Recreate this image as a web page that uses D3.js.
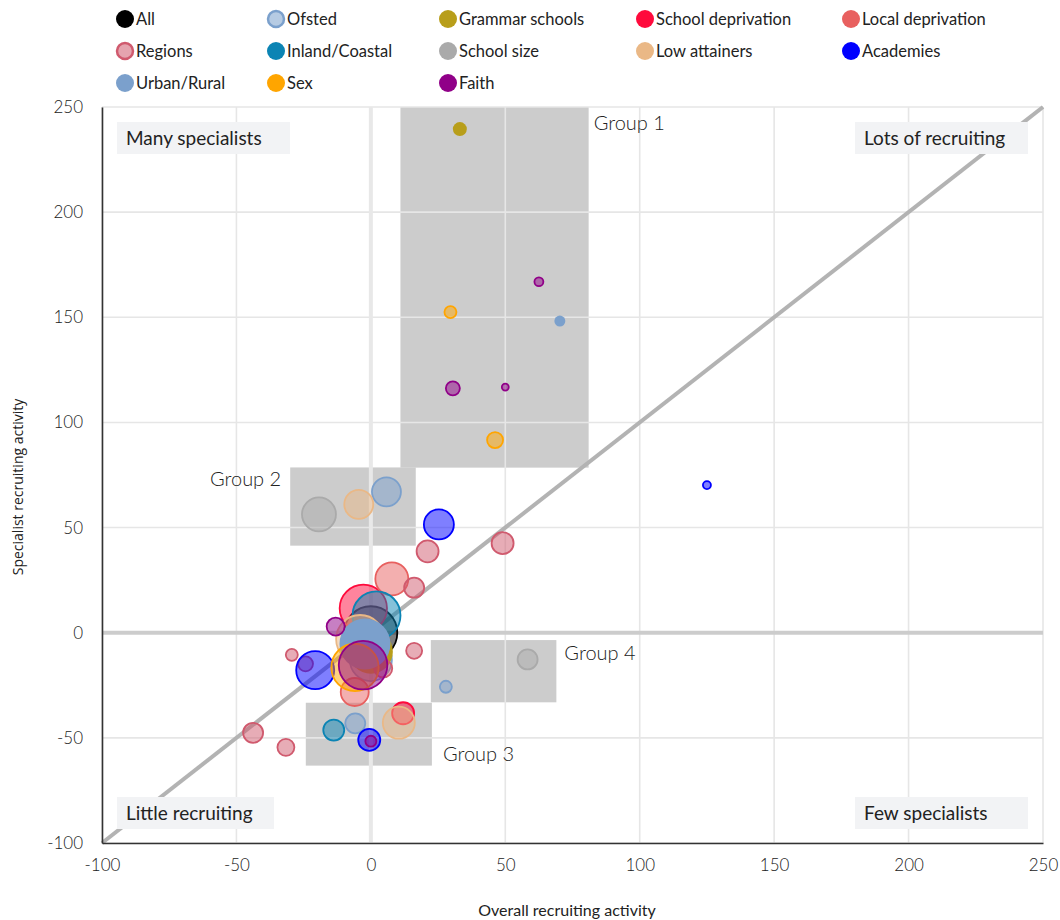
<!DOCTYPE html>
<html><head><meta charset="utf-8">
<script src="https://cdn.jsdelivr.net/npm/d3@7"></script>
<style>
body{margin:0;background:#fff;}
svg text{font-family:Lato,"Noto Sans","DejaVu Sans",sans-serif;fill:#222;}
</style>
</head><body>
<svg id="chart" width="1060" height="920"></svg>
<script>
// ---------- DATA ----------
const seriesNames = ["All","Ofsted","Grammar schools","School deprivation","Local deprivation","Regions","Inland/Coastal","School size","Low attainers","Academies","Urban/Rural","Sex","Faith"];
const seriesColors = ["#000000","#7ba0cc","#b89e1a","#ff0a3c","#e8605f","#d05a6e","#0b84b4","#aaaaaa","#eab886","#0000ff","#7ba0cc","#ffa500","#900088"];

const allX = [0],            allY = [0],            allSize = [700];
const ofstedX = [5.8, 27.9, -5.8, 0],  ofstedY = [67, -25.7, -43.1, -13],  ofstedSize = [210, 36, 100, 441];
const grammarX = [33.1, 0],  grammarY = [239.5, -9],  grammarSize = [49, 484];
const schoolDepX = [-2.8, 12], schoolDepY = [11.6, -38.3], schoolDepSize = [560, 121];
const localDepX = [7.8, -6], localDepY = [25.6, -28.2], localDepSize = [272, 196];
const regionsX = [21.1, 49, 16.1, 16.1, 4.6, -24.3, -29.4, -43.8, -31.6];
const regionsY = [38.7, 42.6, 21.4, -8.6, -17, -14.8, -10.5, -47.6, -54.5];
const regionsSize = [121, 121, 100, 64, 81, 56, 36, 100, 72];
const inlandX = [2.1, -13.8], inlandY = [8.2, -46.3], inlandSize = [576, 110];
const schoolSizeX = [-19.3, 58.3], schoolSizeY = [56.3, -12.7], schoolSizeSize = [289, 100];
const lowAttX = [-4.5, 10.4, -4], lowAttY = [61, -42.8, -3], lowAttSize = [210, 256, 576];
const academiesX = [25.3, 125, -20.7, -0.6], academiesY = [51.5, 70.2, -17.8, -51], academiesSize = [225, 16, 361, 121];
const urbanX = [70.3, -2.2], urbanY = [148.2, -5.4], urbanSize = [30, 650];
const sexX = [29.6, 46.2, -5.9], sexY = [152.5, 91.6, -16.5], sexSize = [36, 64, 560];
const faithX = [62.5, 30.5, 50, -13.1, 0, -2.9], faithY = [166.9, 116.2, 116.8, 2.9, -51.6, -15.4], faithSize = [20, 49, 12, 81, 30, 590];

const xTicks = [-100,-50,0,50,100,150,200,250];
const yTicks = [-100,-50,0,50,100,150,200,250];

const groupNames = ["Group 1","Group 2","Group 3","Group 4"];
const groupX0 = [11, -30, -24.2, 22.3], groupX1 = [81, 16.7, 22.7, 69];
const groupY0 = [78.5, 41.4, -63.2, -33.1], groupY1 = [250, 78.6, -33.3, -3.5];

const quadLabels = ["Many specialists","Lots of recruiting","Little recruiting","Few specialists"];
const xTitle = "Overall recruiting activity";
const yTitle = "Specialist recruiting activity";

// ---------- BUILD ----------
const seriesData = [
  [allX, allY, allSize], [ofstedX, ofstedY, ofstedSize], [grammarX, grammarY, grammarSize],
  [schoolDepX, schoolDepY, schoolDepSize], [localDepX, localDepY, localDepSize],
  [regionsX, regionsY, regionsSize], [inlandX, inlandY, inlandSize], [schoolSizeX, schoolSizeY, schoolSizeSize],
  [lowAttX, lowAttY, lowAttSize], [academiesX, academiesY, academiesSize], [urbanX, urbanY, urbanSize],
  [sexX, sexY, sexSize], [faithX, faithY, faithSize]
];
const opaqueSeries = new Set(["Grammar schools","Urban/Rural"]);
const ringLegend = new Set(["Ofsted","Regions"]);

const points = [];
seriesData.forEach((s, i) => {
  s[0].forEach((x, j) => points.push({series: seriesNames[i], color: seriesColors[i], x, y: s[1][j], size: s[2][j]}));
});

const svg = d3.select("#chart");
const M = {left: 102, right: 1043, top: 107, bottom: 843};
const x = d3.scaleLinear().domain([-100, 250]).range([M.left, M.right]);
const y = d3.scaleLinear().domain([-100, 250]).range([M.bottom, M.top]);
const r = d3.scaleSqrt().domain([0, 1000]).range([0, Math.sqrt(1000)]);

// group rectangles
svg.append("g").selectAll("rect").data(groupNames).join("rect")
  .attr("x", (d,i) => x(groupX0[i])).attr("y", (d,i) => y(groupY1[i]))
  .attr("width", (d,i) => x(groupX1[i]) - x(groupX0[i]))
  .attr("height", (d,i) => y(groupY0[i]) - y(groupY1[i]))
  .attr("fill", "#cccccc");

// grid
const grid = svg.append("g");
grid.selectAll(".gx").data(xTicks).join("line")
  .attr("x1", d => x(d)).attr("x2", d => x(d)).attr("y1", M.top).attr("y2", M.bottom)
  .attr("stroke", "#e6e6e6").attr("stroke-width", 1.6);
grid.selectAll(".gy").data(yTicks).join("line")
  .attr("y1", d => y(d)).attr("y2", d => y(d)).attr("x1", M.left).attr("x2", M.right)
  .attr("stroke", "#e6e6e6").attr("stroke-width", 1.6);
// zero lines
grid.append("line").attr("x1", x(0)).attr("x2", x(0)).attr("y1", M.top).attr("y2", M.bottom)
  .attr("stroke", "#e8e8e8").attr("stroke-width", 4);
grid.append("line").attr("y1", y(0)).attr("y2", y(0)).attr("x1", M.left).attr("x2", M.right)
  .attr("stroke", "#cccccc").attr("stroke-width", 4);
// diagonal
grid.append("line").attr("x1", x(-100)).attr("y1", y(-100)).attr("x2", x(250)).attr("y2", y(250))
  .attr("stroke", "#b3b3b3").attr("stroke-width", 4);

// axes
const fmt = d => String(d);
const xAxis = svg.append("g").attr("transform", `translate(0,${M.bottom})`)
  .call(d3.axisBottom(x).tickValues(xTicks).tickFormat(fmt).tickSize(0).tickPadding(16));
const yAxis = svg.append("g").attr("transform", `translate(${M.left},0)`)
  .call(d3.axisLeft(y).tickValues(yTicks).tickFormat(fmt).tickSize(0).tickPadding(19));
[xAxis, yAxis].forEach(a => {
  a.select(".domain").attr("stroke", "#333").attr("stroke-width", 1.6);
  a.selectAll("text").style("font-family", "Lato,sans-serif").style("font-weight", 300)
    .style("font-size", "17px").attr("fill", "#333");
});

// quadrant label boxes
const quadPos = [
  {bx: M.left + 15, by: M.top + 15, w: 173},
  {bx: M.right - 15 - 173, by: M.top + 15, w: 173},
  {bx: M.left + 15, by: M.bottom - 14 - 32, w: 157},
  {bx: M.right - 15 - 173, by: M.bottom - 14 - 32, w: 173}
];
const qg = svg.append("g").selectAll("g").data(quadLabels).join("g");
qg.append("rect").attr("x", (d,i) => quadPos[i].bx).attr("y", (d,i) => quadPos[i].by)
  .attr("width", (d,i) => quadPos[i].w).attr("height", 32).attr("fill", "#f2f3f5");
qg.append("text").attr("x", (d,i) => quadPos[i].bx + 9).attr("y", (d,i) => quadPos[i].by + 23)
  .style("font-size", "19px").attr("fill", "#111").text(d => d);

// group labels
const gl = svg.append("g");
const glPos = [
  (i) => ({tx: x(groupX1[i]) + 5, ty: y(groupY1[i]) + 23, anchor: "start"}),
  (i) => ({tx: x(groupX0[i]) - 9, ty: y(groupY1[i]) + 19, anchor: "end"}),
  (i) => ({tx: x(groupX1[i]) + 11, ty: y(groupY0[i]) - 5, anchor: "start"}),
  (i) => ({tx: x(groupX1[i]) + 8, ty: y(groupY1[i]) + 20, anchor: "start"})
];
groupNames.forEach((g, i) => {
  const p = glPos[i](i);
  gl.append("text").attr("x", p.tx).attr("y", p.ty).attr("text-anchor", p.anchor)
    .style("font-size", "20px").style("font-weight", 300).attr("fill", "#222").text(g);
});

// points
svg.append("g").selectAll("circle").data(points).join("circle")
  .attr("cx", d => x(d.x)).attr("cy", d => y(d.y)).attr("r", d => r(d.size))
  .attr("fill", d => d.color)
  .attr("fill-opacity", d => opaqueSeries.has(d.series) ? 1 : 0.5)
  .attr("stroke", d => opaqueSeries.has(d.series) ? "none" : d.color)
  .attr("stroke-width", 1.8);

// axis titles
svg.append("text").attr("x", 567).attr("y", 916).attr("text-anchor", "middle")
  .style("font-size", "16px").attr("fill", "#111").text(xTitle);
svg.append("text").attr("transform", "translate(23,487) rotate(-90)").attr("text-anchor", "middle")
  .style("font-family", "'Open Sans',sans-serif").style("font-size", "14px").attr("fill", "#111").text(yTitle);

// legend
const legCols = [125, 276, 448, 645, 851];
const legRows = [19, 51, 83];
const lg = svg.append("g").selectAll("g").data(seriesNames).join("g")
  .attr("transform", (d,i) => `translate(${legCols[i % 5]},${legRows[Math.floor(i / 5)]})`);
lg.append("circle").attr("r", d => ringLegend.has(d) ? 8 : 9)
  .attr("fill", (d,i) => ringLegend.has(d) ? d3.interpolateRgb(seriesColors[i], "#fff")(0.45) : seriesColors[i])
  .attr("stroke", (d,i) => ringLegend.has(d) ? seriesColors[i] : "none").attr("stroke-width", 2.5);
lg.append("text").attr("x", 11).attr("y", 6).style("font-size", "16.5px").attr("fill", "#222").text(d => d);
</script>
</body></html>
